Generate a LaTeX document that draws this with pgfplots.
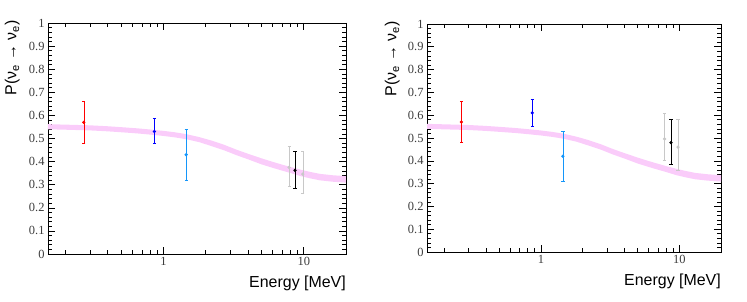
\documentclass[border=0pt]{standalone}
\usepackage{pgfplots}
\pgfplotsset{compat=1.18}
\usepackage{pgfplotstable}
\usepackage{fontspec}
\setmainfont{Liberation Sans}
\newfontfamily\tickfont{Liberation Serif}
\definecolor{pinkband}{RGB}{250,204,250}
\definecolor{ltblue}{RGB}{20,150,250}
\definecolor{ltgray}{RGB}{200,200,200}
\definecolor{tickgray}{RGB}{60,60,60}
\pgfplotsset{every tick label/.append style={font=\tickfont\fontsize{12.5}{14}\selectfont, text=tickgray}}

% band outline: upper edge left to right, then lower edge right to left
\pgfplotstableread{
x y
0.15 0.562
0.2 0.560
0.3 0.557
0.4 0.553
0.5 0.549
0.65 0.544
0.8 0.539
1.0 0.533
1.2 0.527
1.45 0.519
1.8 0.506
2.2 0.491
2.7 0.473
3.3 0.452
4.0 0.434
5.0 0.414
6.0 0.399
7.0 0.387
8.0 0.377
9.5 0.365
11 0.356
13 0.347
16 0.341
20 0.337
20 0.309
16 0.313
13 0.319
11 0.328
9.5 0.337
8.0 0.351
7.0 0.361
6.0 0.373
5.0 0.388
4.0 0.410
3.3 0.428
2.7 0.449
2.2 0.467
1.8 0.484
1.45 0.497
1.2 0.505
1.0 0.511
0.8 0.517
0.65 0.522
0.5 0.527
0.4 0.531
0.3 0.535
0.2 0.538
0.15 0.540
}\band

\begin{document}
\begin{tikzpicture}
\path[use as bounding box] (0,0) rectangle (747bp,302bp);
% left panel
\begin{axis}[scale only axis, anchor=south west, at={(48bp,48bp)}, width=298bp, height=231bp,
    xmode=log, xmin=0.15, xmax=20, ymin=0, ymax=1,
    axis line style={line width=0.8pt},
    tick align=inside,
    xtick={1,10}, xticklabels={1,10},
    minor xtick={0.2,0.3,0.4,0.5,0.6,0.7,0.8,0.9,2,3,4,5,6,7,8,9,20},
    ytick={0,0.1,0.2,0.3,0.4,0.5,0.6,0.7,0.8,0.9,1},
    yticklabels={0,0.1,0.2,0.3,0.4,0.5,0.6,0.7,0.8,0.9,1},
    minor y tick num=4,
    major tick length=7bp, minor tick length=4bp,
    tick style={line width=0.6pt, black},
    xlabel={Energy [MeV]},
    xlabel style={at={(rel axis cs:1,0)}, anchor=base east, inner sep=0pt, yshift=-33bp, font=\fontsize{16}{19}\selectfont},
    ylabel={P(ν\textsubscript{e} → ν\textsubscript{e})},
    ylabel style={at={(rel axis cs:-0.094,1.013)}, anchor=south east, inner sep=0pt, font=\fontsize{16}{19}\selectfont}]
\addplot[fill=pinkband, draw=none] table[x=x, y=y]{\band};
\addplot[red, mark=*, mark size=1.2pt, line width=0.8pt, error bars/.cd, y dir=both, y explicit, error mark options={rotate=90, mark size=1.6pt, red}] coordinates {(0.27,0.57) += (0,0.09) -= (0,0.09)};
\addplot[blue, mark=*, mark size=1.2pt, line width=0.8pt, error bars/.cd, y dir=both, y explicit, error mark options={rotate=90, mark size=1.6pt, blue}] coordinates {(0.86,0.53) += (0,0.06) -= (0,0.05)};
\addplot[ltblue, mark=*, mark size=1.2pt, line width=0.8pt, error bars/.cd, y dir=both, y explicit, error mark options={rotate=90, mark size=1.6pt, ltblue}] coordinates {(1.45,0.43) += (0,0.11) -= (0,0.11)};
\addplot[ltgray, mark=*, mark size=1.2pt, line width=0.8pt, error bars/.cd, y dir=both, y explicit, error mark options={rotate=90, mark size=1.6pt, ltgray}] coordinates {(7.86,0.375) += (0,0.093) -= (0,0.081)};
\addplot[ltgray, mark=*, mark size=1.2pt, line width=0.8pt, error bars/.cd, y dir=both, y explicit, error mark options={rotate=90, mark size=1.6pt, ltgray}] coordinates {(9.84,0.346) += (0,0.097) -= (0,0.083)};
\addplot[black, mark=*, mark size=1.2pt, line width=0.8pt, error bars/.cd, y dir=both, y explicit, error mark options={rotate=90, mark size=1.6pt, black}] coordinates {(8.67,0.362) += (0,0.081) -= (0,0.078)};
\end{axis}
% right panel
\begin{axis}[scale only axis, anchor=south west, at={(427bp,50bp)}, width=294bp, height=228bp,
    xmode=log, xmin=0.15, xmax=20, ymin=0, ymax=1,
    axis line style={line width=0.8pt},
    tick align=inside,
    xtick={1,10}, xticklabels={1,10},
    minor xtick={0.2,0.3,0.4,0.5,0.6,0.7,0.8,0.9,2,3,4,5,6,7,8,9,20},
    ytick={0,0.1,0.2,0.3,0.4,0.5,0.6,0.7,0.8,0.9,1},
    yticklabels={0,0.1,0.2,0.3,0.4,0.5,0.6,0.7,0.8,0.9,1},
    minor y tick num=4,
    major tick length=7bp, minor tick length=4bp,
    tick style={line width=0.6pt, black},
    xlabel={Energy [MeV]},
    xlabel style={at={(rel axis cs:1,0)}, anchor=base east, inner sep=0pt, yshift=-33bp, font=\fontsize{16}{19}\selectfont},
    ylabel={P(ν\textsubscript{e} → ν\textsubscript{e})},
    ylabel style={at={(rel axis cs:-0.092,1.013)}, anchor=south east, inner sep=0pt, font=\fontsize{16}{19}\selectfont}]
\addplot[fill=pinkband, draw=none] table[x=x, y=y]{\band};
\addplot[red, mark=*, mark size=1.2pt, line width=0.8pt, error bars/.cd, y dir=both, y explicit, error mark options={rotate=90, mark size=1.6pt, red}] coordinates {(0.266,0.57) += (0,0.09) -= (0,0.09)};
\addplot[blue, mark=*, mark size=1.2pt, line width=0.8pt, error bars/.cd, y dir=both, y explicit, error mark options={rotate=90, mark size=1.6pt, blue}] coordinates {(0.865,0.61) += (0,0.06) -= (0,0.06)};
\addplot[ltblue, mark=*, mark size=1.2pt, line width=0.8pt, error bars/.cd, y dir=both, y explicit, error mark options={rotate=90, mark size=1.6pt, ltblue}] coordinates {(1.44,0.42) += (0,0.11) -= (0,0.11)};
\addplot[ltgray, mark=*, mark size=1.2pt, line width=0.8pt, error bars/.cd, y dir=both, y explicit, error mark options={rotate=90, mark size=1.6pt, ltgray}] coordinates {(7.82,0.496) += (0,0.111) -= (0,0.092)};
\addplot[ltgray, mark=*, mark size=1.2pt, line width=0.8pt, error bars/.cd, y dir=both, y explicit, error mark options={rotate=90, mark size=1.6pt, ltgray}] coordinates {(9.78,0.46) += (0,0.122) -= (0,0.103)};
\addplot[black, mark=*, mark size=1.2pt, line width=0.8pt, error bars/.cd, y dir=both, y explicit, error mark options={rotate=90, mark size=1.6pt, black}] coordinates {(8.7,0.48) += (0,0.102) -= (0,0.097)};
\end{axis}
\end{tikzpicture}
\end{document}
